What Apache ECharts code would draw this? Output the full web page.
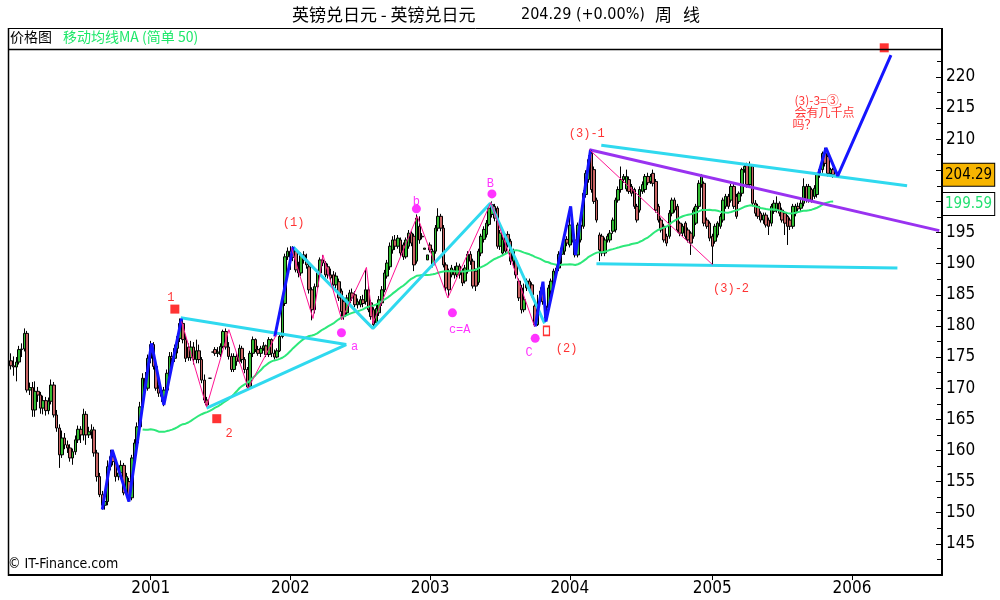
<!DOCTYPE html>
<html><head><meta charset="utf-8">
<script src="https://cdn.jsdelivr.net/npm/echarts@6/dist/echarts.min.js"></script>
<style>html,body{margin:0;padding:0;background:#fff}#c{width:1000px;height:600px}</style>
</head><body><div id="c"></div>
<script>
// ---------- data ----------
const START_DATE = [2000, 0, 7];     // first weekly bar (Friday)
const TOTAL_WEEKS = 347;             // axis length incl. empty future weeks
const lastPrice = 204.29;
const maLastLabel = 199.59;
const yearLabels = ['2001','2002','2003','2004','2005','2006'];
// weekly candles: [open, close, low, high]
const ohlc = [
[174.4,173.6,173.0,175.6],[173.6,173.4,172.0,175.1],[173.4,174.2,171.1,175.0],[174.2,176.2,173.8,176.8],[176.2,176.3,175.0,177.2],
[176.3,178.8,175.9,179.6],[178.8,169.7,169.3,179.2],[169.7,170.1,168.9,170.9],[170.1,166.5,165.4,171.0],[166.5,169.5,165.4,171.1],
[169.5,168.9,167.8,170.2],[168.9,166.8,165.9,169.4],[166.8,168.0,165.8,168.8],[168.0,166.4,165.6,168.6],[166.4,167.9,165.8,168.5],
[167.9,170.5,167.4,171.4],[170.5,165.7,165.3,171.0],[165.7,163.6,163.0,166.5],[163.6,159.3,157.2,164.2],[159.3,162.0,158.8,163.2],
[162.0,160.9,160.2,162.8],[160.9,160.4,159.6,161.6],[160.4,158.8,158.2,161.0],[158.8,159.8,157.7,160.3],[159.8,161.7,159.3,162.4],
[161.7,163.4,161.2,164.0],[163.4,162.5,161.2,163.9],[162.5,165.8,161.6,166.7],[165.8,162.5,160.9,166.3],[162.5,163.0,162.0,163.8],
[163.0,163.3,161.9,164.2],[163.3,159.6,159.0,163.8],[159.6,155.8,155.0,160.1],[155.8,152.9,152.5,156.4],[152.9,151.2,150.5,153.5],
[151.2,151.8,150.5,152.6],[151.8,157.4,151.2,158.4],[157.4,159.0,156.8,160.1],[159.0,158.2,157.6,159.8],[158.2,155.8,155.0,158.7],
[155.8,156.4,155.2,157.2],[156.4,157.6,155.6,158.4],[157.6,153.2,152.8,158.0],[153.2,155.8,152.6,156.4],[155.0,152.4,151.8,155.6],
[152.4,158.8,152.0,159.3],[158.8,161.2,158.2,161.8],[161.2,163.8,160.8,164.5],[163.8,167.0,163.4,167.8],[167.0,171.6,166.6,172.4],
[171.6,170.0,169.4,172.6],[170.0,174.8,169.6,175.4],[174.8,177.0,174.0,177.6],[177.0,173.5,173.0,177.4],[173.5,170.0,169.6,174.0],
[170.0,169.2,168.6,170.6],[169.2,168.7,167.8,170.0],[168.4,169.7,167.1,170.2],[169.7,172.4,169.2,173.0],[172.4,175.1,171.6,175.8],
[175.1,174.8,173.8,175.8],[174.8,176.4,174.2,177.0],[176.4,178.3,175.6,178.8],[178.0,180.4,177.4,181.2],[180.4,177.8,177.2,181.0],
[177.8,174.8,174.2,178.6],[176.6,174.9,174.4,177.2],[174.9,176.6,174.4,177.6],[176.6,174.6,173.8,177.4],[174.6,176.0,174.0,177.8],
[176.0,174.6,174.0,177.0],[174.6,171.3,170.8,175.0],[171.3,168.1,167.6,172.2],[168.1,167.3,167.0,168.6],[171.6,171.6,171.6,171.6],
[175.8,175.8,175.8,175.8],[176.2,175.6,175.2,176.6],[175.6,175.8,175.0,176.6],[175.4,176.7,175.0,177.2],[176.7,179.1,176.4,179.4],
[179.1,176.6,176.2,179.6],[176.6,175.1,174.6,177.4],[175.1,173.0,172.6,175.6],[173.0,175.1,172.6,175.6],[175.1,174.3,173.6,175.6],
[174.3,176.4,174.0,177.0],[176.4,174.6,174.0,176.8],[174.6,173.0,172.4,175.0],[173.0,170.2,169.8,173.4],[170.2,175.6,170.0,176.0],
[175.6,177.8,175.0,178.3],[177.8,176.2,175.8,178.0],[176.2,175.6,175.2,176.8],[175.6,176.4,175.0,176.8],[176.4,176.8,176.0,177.4],
[176.8,175.4,175.0,177.0],[175.4,177.8,175.0,178.2],[177.8,175.6,175.0,178.0],[175.6,175.0,174.6,176.2],[175.0,176.0,174.8,176.4],
[176.0,178.3,175.8,178.8],[178.3,183.6,178.0,184.2],[183.6,191.1,183.2,191.6],[191.1,192.0,190.6,192.6],[192.0,191.0,189.0,192.8],
[191.0,192.4,190.4,192.8],[192.0,189.0,188.6,192.2],[189.0,188.5,187.8,190.3],[188.5,191.4,188.0,191.8],[191.4,190.6,190.0,192.0],
[190.6,189.8,189.2,191.6],[189.5,185.8,185.2,190.0],[185.8,182.6,180.9,186.2],[182.6,186.3,182.0,186.8],[186.3,188.5,186.0,189.0],
[188.5,190.6,188.0,191.0],[190.6,190.1,189.6,191.4],[190.1,188.2,187.8,190.4],[189.5,188.2,187.6,190.0],[188.2,187.7,187.0,189.2],
[188.2,186.6,186.2,188.8],[186.6,188.0,186.0,188.6],[187.1,184.5,184.0,187.6],[185.6,182.3,181.0,186.0],[183.9,181.5,181.0,184.4],
[182.1,184.5,181.6,185.0],[183.7,185.3,183.2,185.8],[185.3,184.5,184.0,186.0],[185.0,183.4,183.0,185.6],[183.4,183.9,182.8,184.4],
[183.4,184.2,183.0,184.8],[184.2,183.6,183.0,185.0],[183.9,185.8,183.4,189.0],[185.8,182.6,182.2,186.4],[183.7,181.5,181.0,184.2],
[182.6,180.2,179.9,183.0],[180.5,182.8,180.2,183.4],[182.1,184.2,181.6,184.8],[183.7,185.8,183.2,186.4],[185.8,188.5,185.4,189.0],
[188.0,190.1,187.6,190.6],[189.5,192.8,189.0,193.4],[192.2,193.8,191.6,194.4],[193.8,192.8,192.2,194.6],[192.8,194.1,192.4,194.6],
[193.8,191.7,191.2,194.2],[193.0,191.1,190.6,193.4],[191.1,193.8,190.8,194.2],[192.8,194.9,192.4,195.4],[194.9,193.3,192.8,195.2],
[194.4,189.8,188.8,194.8],[190.4,197.3,190.0,197.9],[196.0,193.8,193.2,197.6],[194.4,194.3,193.9,194.9],[192.3,192.5,192.3,192.5],
[190.6,191.4,190.6,191.4],[193.0,192.2,191.8,193.4],[189.8,192.0,189.4,192.4],[192.0,195.7,191.6,196.2],[195.7,197.6,195.2,198.9],
[197.6,195.7,195.2,198.0],[195.7,189.8,189.4,196.2],[189.8,186.1,185.6,190.2],[188.8,185.8,184.6,189.2],[188.2,189.3,187.8,189.8],
[189.0,188.2,187.6,189.6],[188.2,189.6,187.8,190.2],[189.6,188.2,187.6,190.0],[188.8,186.9,186.4,189.2],[187.2,189.3,186.8,189.8],
[188.8,191.5,188.4,192.0],[191.5,190.4,189.8,192.0],[190.4,186.4,186.0,190.8],[188.8,186.4,185.6,189.2],[187.0,192.0,186.6,192.4],
[191.7,194.4,191.2,194.8],[193.9,195.5,193.4,196.0],[194.7,196.5,194.2,197.0],[196.3,198.9,196.0,199.4],[197.9,199.5,197.4,200.0],
[199.2,197.3,196.8,199.6],[198.9,192.8,192.4,199.2],[192.8,194.9,192.2,195.4],[191.7,193.9,191.2,194.4],[194.4,192.0,191.6,194.8],
[194.7,193.1,192.6,195.2],[193.6,190.4,189.8,194.0],[190.4,192.0,189.4,192.4],[190.4,188.2,187.6,190.8],[187.2,184.5,184.0,187.6],
[186.1,182.6,182.0,186.6],[182.6,184.2,182.2,186.8],[186.1,187.2,185.6,187.6],[187.2,185.8,185.4,187.6],[186.6,185.0,184.6,187.0],
[183.2,180.2,179.9,183.6],[180.2,182.9,180.0,185.0],[184.2,185.6,183.8,186.2],[185.8,183.9,183.4,186.2],[183.2,181.3,180.7,183.6],
[182.9,186.1,182.4,186.6],[185.6,187.2,185.0,187.6],[186.6,188.8,186.2,189.2],[188.8,189.3,188.0,189.8],[189.3,191.5,188.8,192.0],
[191.5,192.5,190.0,193.0],[192.0,193.9,191.4,194.4],[193.9,193.3,192.8,194.4],[193.0,196.2,192.6,199.0],[193.8,196.0,193.4,196.4],
[193.8,191.4,191.0,194.2],[191.4,196.2,191.0,196.6],[193.8,196.2,193.4,196.6],[196.0,201.3,195.6,201.8],[201.1,204.5,200.6,205.0],
[203.5,206.7,203.0,207.4],[207.7,201.9,201.4,208.3],[205.1,200.0,199.6,205.6],[200.2,197.0,196.6,200.6],[194.6,192.2,190.4,195.0],
[194.4,191.7,191.2,194.8],[191.7,193.8,191.2,194.2],[193.8,194.4,193.4,194.8],[193.8,194.9,193.4,195.4],[195.2,197.0,194.8,197.4],
[195.4,200.2,195.0,200.6],[200.2,201.9,199.8,202.4],[201.9,203.5,201.4,205.6],[203.5,204.0,203.0,204.4],[202.0,204.0,201.6,205.1],
[203.5,201.6,201.2,204.0],[202.4,201.3,200.8,202.8],[201.9,199.2,198.8,202.2],[199.2,197.0,196.6,199.6],[198.6,201.9,198.2,202.4],
[201.6,202.7,201.2,203.2],[201.9,204.0,201.4,204.4],[204.0,203.0,202.6,204.6],[203.2,204.0,202.8,204.4],[204.5,202.9,202.4,205.1],
[203.2,198.6,198.2,203.6],[199.2,197.0,196.6,199.6],[197.0,195.4,195.0,197.4],[196.0,193.8,193.4,196.4],[194.4,193.3,192.8,194.8],
[194.4,198.1,194.0,198.6],[198.1,200.2,197.6,200.6],[200.2,198.6,198.2,200.6],[199.2,195.4,195.0,199.6],[196.5,194.9,194.4,196.8],
[194.9,196.0,194.4,196.4],[196.5,194.4,194.0,196.8],[195.4,193.8,193.4,195.8],[194.9,193.3,191.4,195.2],[194.4,198.6,194.0,199.0],
[196.5,199.2,196.2,199.6],[199.2,202.9,198.8,203.4],[202.7,204.0,202.2,204.4],[202.9,196.5,196.0,203.2],[197.0,196.0,195.6,197.4],
[196.5,194.1,193.6,196.8],[194.4,192.8,189.8,194.8],[193.6,196.0,193.2,196.4],[194.6,196.5,194.2,196.8],[196.0,197.6,195.6,198.0],
[197.0,200.2,196.6,200.6],[199.2,200.8,198.8,201.2],[200.8,199.2,198.8,201.2],[200.2,202.4,199.8,202.8],[202.4,199.2,198.8,202.8],
[200.8,197.6,197.2,201.2],[200.0,201.3,199.6,201.6],[201.3,205.1,200.8,205.4],[205.1,205.6,204.6,206.0],[205.9,202.7,202.2,206.2],
[202.7,205.9,202.2,206.4],[205.6,199.7,199.2,206.0],[199.7,198.1,197.6,200.2],[199.2,197.6,197.2,199.6],[198.1,197.0,196.6,198.4],
[197.0,197.8,196.4,198.2],[197.8,196.2,195.8,198.2],[197.0,196.0,194.6,197.4],[196.5,199.2,196.0,199.6],[198.4,199.7,198.0,200.2],
[198.6,199.7,198.2,200.8],[199.7,198.1,197.6,200.0],[198.6,197.0,196.6,199.0],[198.1,196.5,194.6,198.4],[197.6,196.0,193.0,197.8],
[197.0,196.0,195.4,197.4],[196.0,199.2,195.6,199.6],[198.1,199.2,197.6,199.6],[199.2,198.8,198.2,199.8],[198.9,199.7,198.4,200.2],
[199.7,202.4,199.2,203.7],[202.4,200.2,199.8,202.8],[200.2,202.4,199.8,202.8],[201.9,200.2,199.8,202.2],[200.8,202.1,200.4,202.6],
[201.1,204.3,200.6,204.6],[204.3,205.1,203.8,205.4],[205.1,207.7,204.6,208.0],[207.7,206.1,205.6,208.6],[207.2,204.5,204.0,207.6],
[204.5,205.1,204.0,205.4],[205.1,204.29,203.8,205.4]
];
// drawn annotations, as [week index, price]
const blueWaves = [
  [[34.0,150.5],[37.7,160.1],[43.9,151.8],[52.3,177.2],[56.9,167.3],[63.5,181.2]],
  [[98.2,178.3],[105.0,192.7]],
  [[195.1,179.9],[198.0,187.1],[199.1,180.7],[208.3,199.2],[210.1,191.4],[215.7,208.3]],
  [[300.6,204.5],[303.3,208.6],[307.7,204.1],[327.5,223.5]]
];
const cyanLines = [
  [[63.2,181.3],[124.8,177.0]],
  [[72.8,166.8],[124.8,177.0]],
  [[105.0,192.7],[134.7,179.6],[178.4,199.7],[198.6,180.4]],
  [[219.7,209.0],[333.5,202.5]],
  [[217.9,190.0],[329.9,189.3]]
];
const purpleLine = [[215.3,208.3],[345.5,195.3]];
const pinkLines = [
  [[63.5,180.7],[72.8,167.0],[81.1,179.4],[88.3,170.0],[98.8,178.6]],
  [[104.4,192.5],[112.4,181.2],[116.1,191.4],[123.1,181.0],[132.3,189.4],[134.7,180.4],[151.2,197.6],[162.6,184.5],[178.6,199.8],[194.9,179.9]],
  [[215.3,208.3],[261.2,189.8]]
];
const redSquares = [[61.0,182.7],[76.6,165.1],[325.0,224.66]];
const hollowSquares = [[199.3,179.2]];
const pinkDots = [[123.0,178.9],[150.9,198.8],[179.0,201.2],[164.3,182.1],[195.1,178.0]];
const redLabels = [['1',59.5,184.5],['2',81.2,162.7],['(1)',105.2,196.5],['(2)',206.8,176.3],['(3)-1',214.3,210.8],['(3)-2',268.0,186.0]];
const pinkLabels = [['a',127.9,176.7],['b',150.9,200.0],['B',178.4,202.8],['c=A',167.0,179.4],['C',192.8,175.6]];
const noteLines = [['(3)-3=③,',291.6,216.2],['会有几千点',291.6,214.25],['吗？',290.9,212.3]];

// ---------- build ----------
const NARROW = '"Liberation Sans Narrow","DejaVu Sans Condensed","Liberation Sans",sans-serif';
const CJK = '"Noto Sans CJK SC","Liberation Sans",sans-serif';
const weekDates = [];
{
  const t0 = Date.UTC(START_DATE[0], START_DATE[1], START_DATE[2]);
  for (let i = 0; i < TOTAL_WEEKS; i++) weekDates.push(new Date(t0 + i * 7 * 864e5).toISOString().slice(0, 10));
}
const yearStart = new Set();
for (let i = 1; i < weekDates.length; i++) {
  const y = weekDates[i].slice(0, 4);
  if (y !== weekDates[i - 1].slice(0, 4) && yearLabels.includes(y)) yearStart.add(i);
}
const closes = ohlc.map(r => r[1]);
const ma50 = closes.map((c, i) => {
  if (i < 49) return '-';
  let s = 0; for (let k = i - 49; k <= i; k++) s += closes[k];
  return +(s / 50).toFixed(2);
});

function lineSeries(pts, color, width, z) {
  return { type: 'line', xAxisIndex: 1, yAxisIndex: 0, data: pts, symbol: 'none', silent: true, clip: false,
    lineStyle: { color, width }, z: z || 5, animation: false };
}
function labelSeries(items, color, font, size, align) {
  return { type: 'scatter', xAxisIndex: 1, yAxisIndex: 0, symbolSize: 1, silent: true, clip: false, z: 8,
    itemStyle: { color: 'rgba(0,0,0,0)' },
    data: items.map(t => ({ value: [t[1], t[2]], name: t[0] })),
    label: { show: true, position: 'inside', align: align || 'center', verticalAlign: 'middle',
      formatter: p => p.name, color, fontFamily: font, fontSize: size } };
}

const series = [
  { type: 'candlestick', xAxisIndex: 0, yAxisIndex: 0, data: ohlc, barWidth: 3, z: 2,
    itemStyle: { color: '#33bb33', color0: '#c86464', borderColor: '#000', borderColor0: '#000', borderWidth: 1 },
    markLine: { silent: true, symbol: ['none', 'none'], animation: false,
      lineStyle: { color: 'rgba(0,0,0,0)', width: 1, type: 'solid' },
      data: [
        { yAxis: lastPrice, label: { show: true, position: 'end', distance: 1, formatter: lastPrice.toFixed(2),
          color: '#000', backgroundColor: '#f7b500', borderColor: '#000', borderWidth: 1,
          padding: [4, 2, 3, 2], fontSize: 15, fontFamily: NARROW } },
        { yAxis: maLastLabel, label: { show: true, position: 'end', distance: 1, formatter: maLastLabel.toFixed(2),
          color: '#22e070', backgroundColor: '#fff', borderColor: '#000', borderWidth: 1,
          padding: [4, 2, 3, 2], fontSize: 15, fontFamily: NARROW } }
      ] } },
  { type: 'line', xAxisIndex: 0, yAxisIndex: 0, data: ma50, symbol: 'none', silent: true, z: 3,
    lineStyle: { color: '#2de87a', width: 2 } }
];
cyanLines.forEach(p => series.push(lineSeries(p, '#2fd9ef', 3, 4)));
series.push(lineSeries(purpleLine, '#9932f0', 3, 4));
pinkLines.forEach(p => series.push(lineSeries(p, '#ff1493', 1, 6)));
blueWaves.forEach(p => series.push(lineSeries(p, '#1515ff', 3, 5)));
series.push({ type: 'scatter', xAxisIndex: 1, yAxisIndex: 0, data: redSquares, symbol: 'rect', symbolSize: 9,
  itemStyle: { color: '#ff0000' }, silent: true, clip: false, z: 7 });
series.push({ type: 'scatter', xAxisIndex: 1, yAxisIndex: 0, data: hollowSquares, symbol: 'rect', symbolSize: [6, 9],
  itemStyle: { color: '#fff', borderColor: '#ff0000', borderWidth: 1.5 }, silent: true, clip: false, z: 7 });
series.push({ type: 'scatter', xAxisIndex: 1, yAxisIndex: 0, data: pinkDots, symbol: 'circle', symbolSize: 9,
  itemStyle: { color: '#ff00ff' }, silent: true, clip: false, z: 7 });
series.push(labelSeries(redLabels, '#ff0000', '"Liberation Mono",monospace', 12));
series.push(labelSeries(pinkLabels, '#ff00ff', '"Liberation Mono",monospace', 12));
series.push(labelSeries(noteLines, '#ff0000', CJK, 12, 'left'));

// tick labels hidden behind the price boxes on the right axis
const coveredByBox = v => Math.abs(v - lastPrice) < 3 || Math.abs(v - maLastLabel) < 3;

const option = {
  animation: false,
  backgroundColor: '#fff',
  grid: { left: 9.6, right: 58, top: 49, bottom: 25 },
  xAxis: [
    { type: 'category', data: weekDates, boundaryGap: true,
      axisLine: { onZero: false, lineStyle: { color: '#000', width: 2 } },
      axisTick: { show: true, alignWithLabel: true, interval: i => yearStart.has(i), length: 5, lineStyle: { color: '#000' } },
      axisLabel: { interval: i => yearStart.has(i), formatter: v => v.slice(0, 4), color: '#000', fontSize: 17,
        fontFamily: NARROW, margin: 5 },
      splitLine: { show: false } },
    { type: 'value', min: -0.5, max: TOTAL_WEEKS - 0.5, show: false, splitLine: { show: false },
      axisLine: { show: false, onZero: false }, axisTick: { show: false }, axisLabel: { show: false } }
  ],
  yAxis: [{ type: 'value', position: 'right', min: 140, max: 224.47, interval: 5,
    axisLine: { show: true, onZero: false, lineStyle: { color: '#000', width: 2 } },
    axisTick: { show: true, inside: true, length: 6, lineStyle: { color: '#000' } },
    minorTick: { show: true, splitNumber: 2, length: 5, lineStyle: { color: '#000' } },
    axisLabel: { color: '#000', fontSize: 17, fontFamily: NARROW, margin: 4, showMinLabel: false, showMaxLabel: false,
      formatter: v => (Math.abs(v % 5) < 1e-6 && !coveredByBox(v) ? String(v) : '') },
    splitLine: { show: false } }],
  graphic: [
    { type: 'line', shape: { x1: 8, y1: 28.5, x2: 943, y2: 28.5 }, style: { stroke: '#000', lineWidth: 1 }, z: 20 },
    { type: 'line', shape: { x1: 8, y1: 49.5, x2: 943, y2: 49.5 }, style: { stroke: '#000', lineWidth: 1.5 }, z: 20 },
    { type: 'line', shape: { x1: 8.5, y1: 28, x2: 8.5, y2: 576 }, style: { stroke: '#000', lineWidth: 1.5 }, z: 20 },
    { type: 'line', shape: { x1: 942, y1: 28, x2: 942, y2: 50 }, style: { stroke: '#000', lineWidth: 2 }, z: 20 },
    { type: 'text', left: 292, top: 6, style: { text: '英镑兑日元 - 英镑兑日元', fill: '#000', font: '17px ' + CJK } },
    { type: 'text', left: 521, top: 7, style: { text: '204.29 (+0.00%)', fill: '#000', font: '16px ' + NARROW } },
    { type: 'text', left: 655, top: 6, style: { text: '周', fill: '#000', font: '17px ' + CJK } },
    { type: 'text', left: 683, top: 6, style: { text: '线', fill: '#000', font: '17px ' + CJK } },
    { type: 'text', left: 10, top: 30, style: { text: '价格图', fill: '#000', font: '14px ' + CJK } },
    { type: 'text', left: 63, top: 30, style: { text: '移动均线MA (简单 50)', fill: '#1ee86a', font: '14px ' + CJK } },
    { type: 'text', left: 8, top: 557, style: { text: '© IT-Finance.com', fill: '#000', font: '14px ' + NARROW } }
  ],
  series
};
const chart = echarts.init(document.getElementById('c'));
chart.setOption(option);
</script>
</body></html>
